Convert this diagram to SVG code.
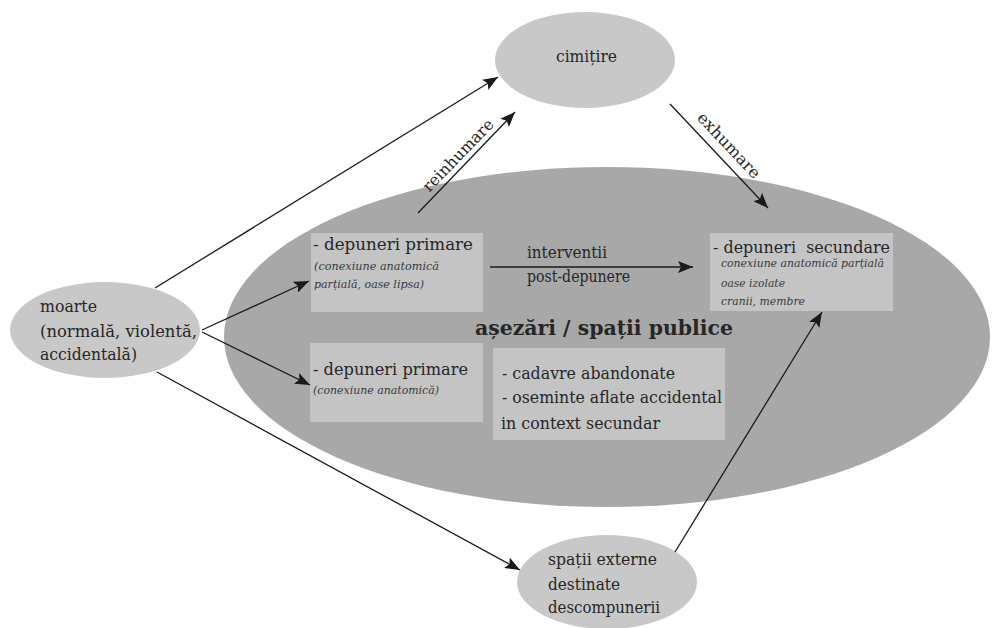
<svg xmlns="http://www.w3.org/2000/svg" width="995" height="628" viewBox="0 0 995 628">
<defs>
<marker id="ah" markerUnits="userSpaceOnUse" markerWidth="16" markerHeight="12" refX="15" refY="6" orient="auto">
<path d="M0,0 L15,6 L0,12 L3,6 z" fill="#1a1a1a"/>
</marker>
<style>
.t{font-family:"DejaVu Serif","Liberation Serif",serif;fill:#262626;}
.h{font-size:17.5px;}
.i{font-size:11.5px;font-style:italic;fill:#3a3a3a;}
.n{font-size:16.5px;}
.big{fill:#a8a8a8;}
.sm{fill:#c8c8c8;}
.box{fill:#c4c4c4;}
.c{stroke:#1a1a1a;stroke-width:1.3;fill:none;marker-end:url(#ah);}
</style>
</defs>
<rect width="995" height="628" fill="#ffffff"/>
<g id="asezari">
<ellipse class="big" cx="607" cy="337" rx="383" ry="170"/>
<text class="t" x="475" y="335" font-size="21" font-weight="bold" textLength="258" lengthAdjust="spacingAndGlyphs">așezări / spații publice</text>
</g>
<g id="box1">
<rect class="box" x="311" y="233" width="172" height="79"/>
<text class="t h" x="313" y="250" textLength="160" lengthAdjust="spacingAndGlyphs">- depuneri primare</text>
<text class="t i" x="314" y="270" textLength="125" lengthAdjust="spacingAndGlyphs">(conexiune anatomică</text>
<text class="t i" x="314" y="288" textLength="110" lengthAdjust="spacingAndGlyphs">parțială, oase lipsa)</text>
</g>
<g id="box2">
<rect class="box" x="710" y="233" width="183" height="78"/>
<text class="t h" x="713" y="253" textLength="177" lengthAdjust="spacingAndGlyphs" xml:space="preserve">- depuneri  secundare</text>
<text class="t i" x="721" y="267" textLength="163" lengthAdjust="spacingAndGlyphs">conexiune anatomică parțială</text>
<text class="t i" x="721" y="287" textLength="64" lengthAdjust="spacingAndGlyphs">oase izolate</text>
<text class="t i" x="721" y="305" textLength="84" lengthAdjust="spacingAndGlyphs">cranii, membre</text>
</g>
<g id="box3">
<rect class="box" x="310" y="343" width="173" height="79"/>
<text class="t h" x="313" y="375" textLength="155" lengthAdjust="spacingAndGlyphs">- depuneri primare</text>
<text class="t i" x="313" y="394" textLength="126" lengthAdjust="spacingAndGlyphs">(conexiune anatomică)</text>
</g>
<g id="box4">
<rect class="box" x="493" y="348" width="232" height="92"/>
<text class="t n" x="502" y="379" textLength="173" lengthAdjust="spacingAndGlyphs">- cadavre abandonate</text>
<text class="t n" x="502" y="403" textLength="220" lengthAdjust="spacingAndGlyphs">- oseminte aflate accidental</text>
<text class="t n" x="501" y="429" textLength="159" lengthAdjust="spacingAndGlyphs">in context secundar</text>
</g>
<g id="cimitire">
<ellipse class="sm" cx="585" cy="60" rx="90" ry="48"/>
<text class="t" x="556" y="62" font-size="16" textLength="61" lengthAdjust="spacingAndGlyphs">cimițire</text>
</g>
<g id="moarte">
<ellipse class="sm" cx="105" cy="330" rx="95" ry="48"/>
<text class="t n" x="40" y="312" textLength="57" lengthAdjust="spacingAndGlyphs">moarte</text>
<text class="t n" x="40" y="337" textLength="157" lengthAdjust="spacingAndGlyphs">(normală, violentă,</text>
<text class="t n" x="40" y="360" textLength="97" lengthAdjust="spacingAndGlyphs">accidentală)</text>
</g>
<g id="spatii">
<ellipse class="sm" cx="607" cy="582" rx="90" ry="47"/>
<text class="t n" x="548" y="565" textLength="109" lengthAdjust="spacingAndGlyphs">spații externe</text>
<text class="t n" x="548" y="590" textLength="72" lengthAdjust="spacingAndGlyphs">destinate</text>
<text class="t n" x="548" y="613" textLength="112" lengthAdjust="spacingAndGlyphs">descompunerii</text>
</g>
<g id="connectors">
<line class="c" x1="155" y1="288" x2="498" y2="77"/>
<line class="c" x1="418" y1="213" x2="515" y2="112"/>
<line class="c" x1="202" y1="330" x2="309" y2="281"/>
<line class="c" x1="202" y1="332" x2="310" y2="385"/>
<line class="c" x1="157" y1="372" x2="520" y2="570"/>
<line class="c" x1="675" y1="552" x2="822" y2="312"/>
<line class="c" x1="670" y1="104" x2="768" y2="208"/>
<line class="c" x1="490" y1="267" x2="693" y2="267"/>
<text class="t" x="527" y="258" font-size="16" textLength="80" lengthAdjust="spacingAndGlyphs">interventii</text>
<text class="t" x="527" y="282" font-size="16" textLength="103" lengthAdjust="spacingAndGlyphs">post-depunere</text>
<text class="t" font-size="16" text-anchor="middle" textLength="94" lengthAdjust="spacingAndGlyphs" transform="translate(462,159) rotate(-46)">reinhumare</text>
<text class="t" font-size="16" text-anchor="middle" textLength="84" lengthAdjust="spacingAndGlyphs" transform="translate(725,149) rotate(46.7)">exhumare</text>
</g>
</svg>
